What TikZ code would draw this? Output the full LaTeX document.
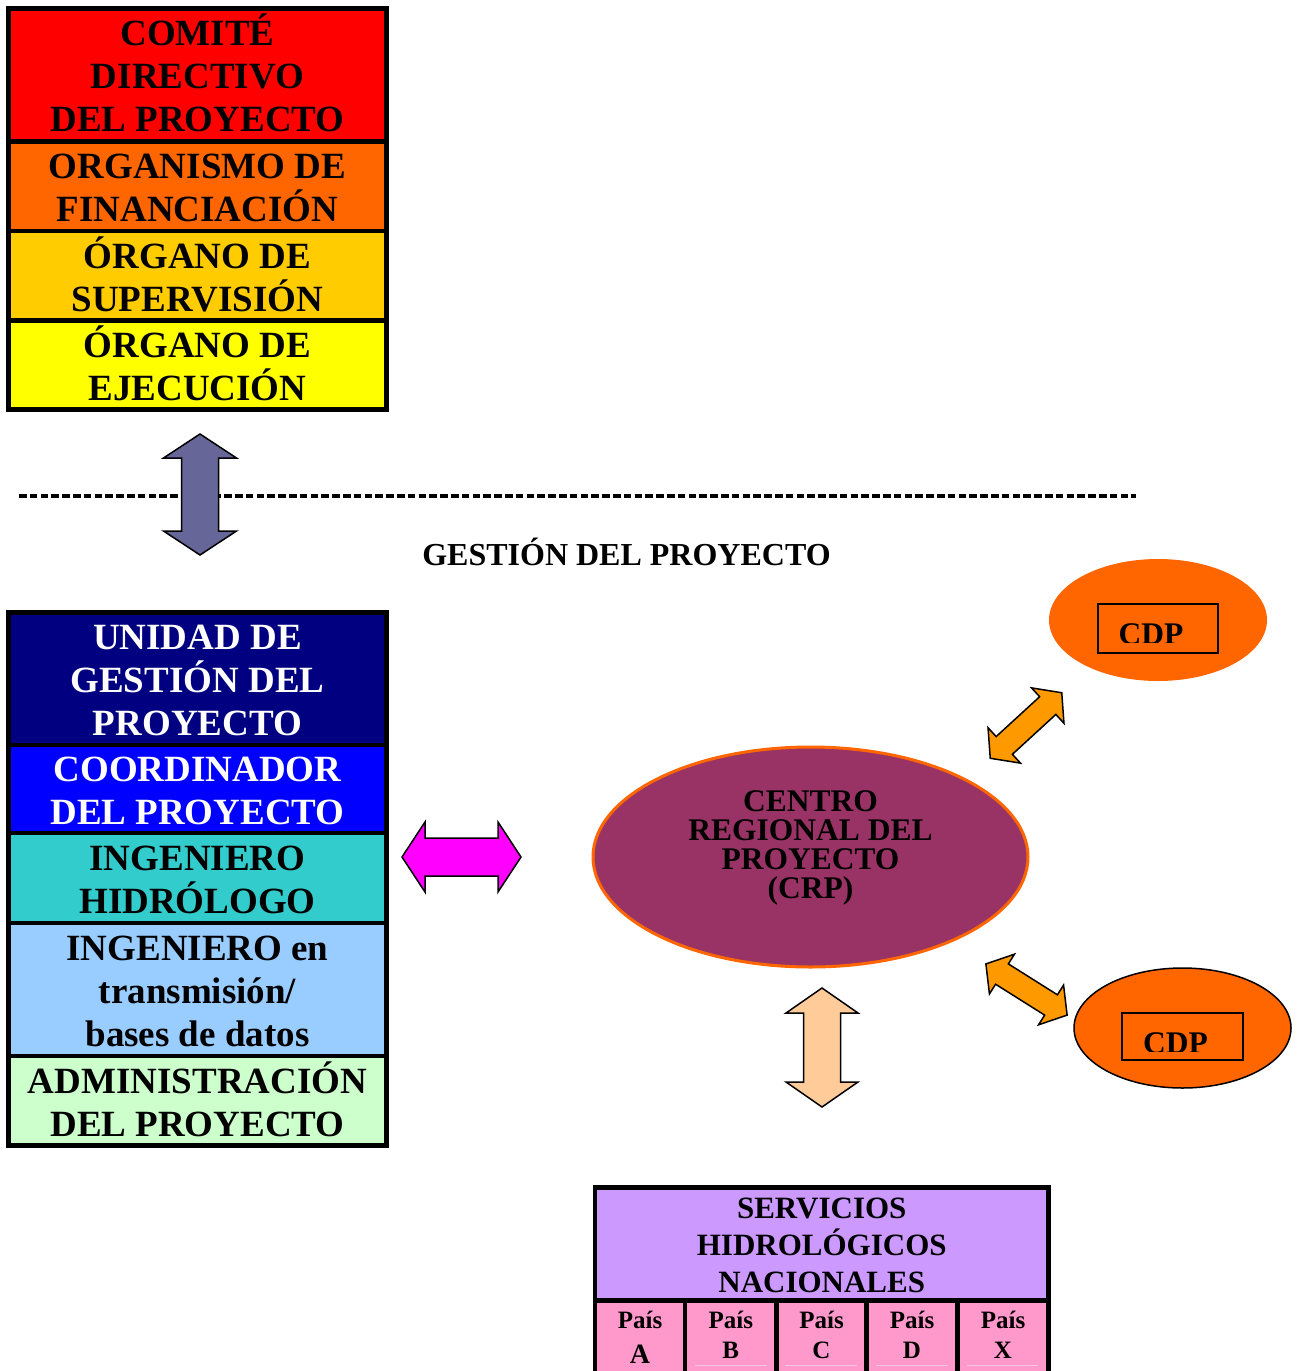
\documentclass[tikz,border=0pt]{standalone}
\usepackage{fontspec}
\setmainfont{Liberation Serif}
\usetikzlibrary{shapes.geometric}
\definecolor{cRed}{HTML}{FF0000}
\definecolor{cOrange}{HTML}{FF6600}
\definecolor{cGold}{HTML}{FFCC00}
\definecolor{cYellow}{HTML}{FFFF00}
\definecolor{cNavy}{HTML}{000080}
\definecolor{cBlue}{HTML}{0000FF}
\definecolor{cTeal}{HTML}{33CCCC}
\definecolor{cLBlue}{HTML}{99CCFF}
\definecolor{cLGreen}{HTML}{CCFFCC}
\definecolor{cSlate}{HTML}{666699}
\definecolor{cMag}{HTML}{FF00FF}
\definecolor{cPeach}{HTML}{FFCC99}
\definecolor{cArrOr}{HTML}{FF9900}
\definecolor{cCRP}{HTML}{993366}
\definecolor{cCDP}{HTML}{FF6600}
\definecolor{cLav}{HTML}{CC99FF}
\definecolor{cPink}{HTML}{FF99CC}
\definecolor{cFaint}{HTML}{FFC4E1}
\newcommand\myfs[2]{\fontsize{#1}{#2}\selectfont}
\newcommand\tstrut{\rule{0pt}{0.95em}}
\newcommand\bstrut{\rule[-0.2em]{0pt}{0.2em}}
% #1 centre coordinate, #2 angle, #3 half length, #4 head half width, #5 shaft half width, #6 head length, #7 fill
\newcommand\blockarrow[7]{%
  \begin{scope}[shift={(#1)}, rotate=#2]
    \draw[arrowline, fill=#7] (-#3,0) -- (-#3+#6,#4) -- (-#3+#6,#5) -- (#3-#6,#5) -- (#3-#6,#4) -- (#3,0)
      -- (#3-#6,-#4) -- (#3-#6,-#5) -- (-#3+#6,-#5) -- (-#3+#6,-#4) -- cycle;
  \end{scope}}
\begin{document}
\begin{tikzpicture}[x=1pt,y=-1pt,
  stackcell/.style={draw=black, line width=4.5pt, inner sep=0pt, outer sep=0pt,
    minimum width=378pt, align=center, font=\bfseries\myfs{37}{43}},
  arrowline/.style={draw=black, line width=1.5pt, line join=miter},
  paiscell/.style={draw=black, line width=4.5pt, fill=cPink, inner sep=0pt, minimum height=100pt},
  paistext/.style={anchor=north, inner sep=0pt, align=center, font=\bfseries\myfs{25}{30}},
  cdptext/.style={anchor=base, inner sep=0pt, font=\bfseries\myfs{31.5}{36}},
  cdpbox/.style={draw=black, line width=1.5pt, inner sep=0pt},
  faint/.style={draw=cFaint, line width=1pt}]
\useasboundingbox (0,0) rectangle (1297,1371);
\clip (0,0) rectangle (1297,1371);
\fill[white] (0,0) rectangle (1297,1371);

% ---- top stack
\node[stackcell, fill=cRed, minimum height=133] (comite) at (197.5,75)
  {\tstrut COMITÉ\\DIRECTIVO\\DEL PROYECTO\bstrut};
\node[stackcell, fill=cOrange, minimum height=89.5] (organismo) at (197.5,186.25)
  {\tstrut ORGANISMO DE\\FINANCIACIÓN\bstrut};
\node[stackcell, fill=cGold, minimum height=89.5] (supervision) at (197.5,275.75)
  {\tstrut ÓRGANO DE\\SUPERVISIÓN\bstrut};
\node[stackcell, fill=cYellow, minimum height=89] (ejecucion) at (197.5,365)
  {\tstrut ÓRGANO DE\\EJECUCIÓN\bstrut};

% ---- dashed separator
\coordinate (dashL) at (19,495.5);
\coordinate (dashR) at (1136,495.5);
\draw[line width=4pt, dash pattern=on 7.5pt off 3.3pt] (dashL) -- (dashR);

\coordinate (arrSlate) at (200,494.5);
\blockarrow{arrSlate}{90}{60.5}{36.5}{18.5}{24}{cSlate}

\node[inner sep=0pt, font=\bfseries\myfs{32}{38}] (gestion) at (626.5,553)
  {\tstrut GESTIÓN DEL PROYECTO\bstrut};

% ---- bottom-left stack
\node[stackcell, fill=cNavy, text=white, minimum height=132.5] (unidad) at (197.5,678.75)
  {\tstrut UNIDAD DE\\GESTIÓN DEL\\PROYECTO\bstrut};
\node[stackcell, fill=cBlue, text=white, minimum height=88] (coord) at (197.5,789)
  {\tstrut COORDINADOR\\DEL PROYECTO\bstrut};
\node[stackcell, fill=cTeal, minimum height=90] (hidro) at (197.5,878)
  {\tstrut INGENIERO\\HIDRÓLOGO\bstrut};
\node[stackcell, fill=cLBlue, minimum height=133] (transm) at (197.5,989.5)
  {\tstrut INGENIERO en\\transmisión/\\bases de datos\bstrut};
\node[stackcell, fill=cLGreen, minimum height=89.5] (admin) at (197.5,1100.75)
  {\tstrut ADMINISTRACIÓN\\DEL PROYECTO\bstrut};

\coordinate (arrMag) at (461.5,857);
\blockarrow{arrMag}{0}{59.5}{35}{19}{23}{cMag}

% ---- CRP
\node[ellipse, draw=cCDP, line width=3pt, fill=cCRP, minimum width=435pt, minimum height=220pt, inner sep=0pt] (crp) at (810.5,857) {};
\node[inner sep=0pt, align=center, font=\bfseries\myfs{31.5}{29}] (crptext) at (810.5,843.5)
  {\tstrut CENTRO\\REGIONAL DEL\\PROYECTO\\(CRP)\bstrut};

% ---- CDP top
\node[ellipse, fill=cCDP, minimum width=218pt, minimum height=122pt, inner sep=0pt] (cdpA) at (1158,620) {};
\node[cdpbox, minimum width=120pt, minimum height=49pt] (cdpboxA) at (1158,628.5) {};
\begin{scope}
  \clip (1098,600) rectangle (1218,642.5);
  \node[cdptext] (cdptextA) at (1151,644.5) {CDP};
\end{scope}

% ---- CDP bottom
\node[ellipse, draw=black, line width=1.5pt, fill=cCDP, minimum width=217pt, minimum height=120pt, inner sep=0pt] (cdpB) at (1182.5,1028) {};
\node[cdpbox, minimum width=121pt, minimum height=47pt] (cdpboxB) at (1182.5,1036.5) {};
\begin{scope}
  \clip (1122,1010) rectangle (1243,1051.5);
  \node[cdptext] (cdptextB) at (1175.5,1053.5) {CDP};
\end{scope}

\coordinate (arrOrA) at (1026,725.5);
\blockarrow{arrOrA}{42.5}{48.5}{24}{12}{19}{cArrOr}
\coordinate (arrOrB) at (1026.5,989.5);
\blockarrow{arrOrB}{-32.2}{48}{23.5}{12}{19}{cArrOr}

\coordinate (arrPeach) at (822,1047.5);
\blockarrow{arrPeach}{90}{59.5}{36}{18.5}{25}{cPeach}

% ---- national services table
\node[paiscell, minimum width=90pt] (cellA) at (640,1350.5) {};
\node[paiscell, minimum width=91.5pt] (cellB) at (730.75,1350.5) {};
\node[paiscell, minimum width=90pt] (cellC) at (821.5,1350.5) {};
\node[paiscell, minimum width=91pt] (cellD) at (912,1350.5) {};
\node[paiscell, minimum width=91pt] (cellX) at (1003,1350.5) {};
\node[draw=black, line width=4.5pt, fill=cLav, minimum width=453.5pt, minimum height=113pt, inner sep=0pt,
  align=center, font=\bfseries\myfs{31}{36.8}] (shn) at (821.75,1244)
  {\tstrut SERVICIOS\\HIDROLÓGICOS\\NACIONALES\bstrut};

\draw[faint] (695,1365) -- (767,1365);
\draw[faint] (785,1365) -- (857,1365);
\draw[faint] (876,1365) -- (948,1365);
\draw[faint] (967,1365) -- (1038,1365);

\node[paistext] (tA) at (640,1304.25) {\tstrut País\\[5pt]{\myfs{28}{30}A}\bstrut};
\node[paistext] (tB) at (730.75,1304.25) {\tstrut País\\B\bstrut};
\node[paistext] (tC) at (821.5,1304.25) {\tstrut País\\C\bstrut};
\node[paistext] (tD) at (912,1304.25) {\tstrut País\\D\bstrut};
\node[paistext] (tX) at (1003,1304.25) {\tstrut País\\X\bstrut};
\end{tikzpicture}
\end{document}
